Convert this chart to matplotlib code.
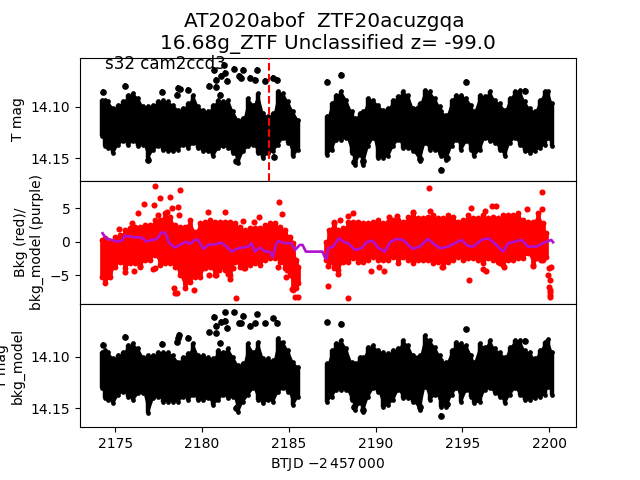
import matplotlib
matplotlib.use("Agg")
import matplotlib.pyplot as plt

# ---- time grids (BTJD - 2457000 style axis) ----
t_left = [2174.21,2174.41,2174.60,2174.89,2175.17,2175.46,2175.75,2176.04,2176.33,2176.61,
          2176.90,2177.19,2177.48,2177.77,2178.05,2178.34,2178.63,2178.92,2179.21,2179.49,
          2179.78,2180.07,2180.36,2180.64,2180.93,2181.22,2181.51,2181.80,2182.08,2182.37,
          2182.66,2182.95,2183.23,2183.52,2183.81,2184.10,2184.39,2184.67,2184.96,2185.25,2185.54]
t_right = [2187.21,2187.46,2187.74,2188.03,2188.32,2188.61,2188.80,2189.09,2189.28,2189.57,
           2189.86,2190.14,2190.43,2190.72,2191.01,2191.30,2191.58,2191.87,2192.16,2192.54,
           2192.83,2193.12,2193.41,2193.69,2193.79,2194.08,2194.37,2194.65,2194.94,2195.23,
           2195.52,2195.65,2196.00,2196.28,2196.57,2196.86,2197.15,2197.44,2197.72,2198.01,
           2198.30,2198.59,2198.87,2199.16,2199.45,2199.74,2199.93,2200.16]

# ---- top panel: T mag band limits ----
mag_hi_left = [14.0928,14.0928,14.0945,14.1010,14.0977,14.0945,14.0879,14.0863,14.0912,14.0994,
               14.0994,14.0977,14.0945,14.0928,14.0945,14.0977,14.1026,14.1010,14.0961,14.0879,
               14.0994,14.1026,14.1043,14.0977,14.0928,14.0945,14.0928,14.1043,14.1124,14.1108,
               14.0912,14.0977,14.0863,14.1059,14.1092,14.1059,14.0846,14.0863,14.0945,14.1043,14.1124]
mag_lo_left = [14.1288,14.1386,14.1402,14.1451,14.1369,14.1337,14.1369,14.1337,14.1386,14.1369,
               14.1500,14.1418,14.1386,14.1418,14.1435,14.1435,14.1418,14.1369,14.1402,14.1353,
               14.1402,14.1435,14.1435,14.1484,14.1402,14.1386,14.1402,14.1451,14.1549,14.1435,
               14.1386,14.1369,14.1451,14.1500,14.1451,14.1435,14.1369,14.1304,14.1353,14.1484,14.1418]
mag_hi_right = [14.1092,14.0961,14.0879,14.0846,14.0928,14.1043,14.1108,14.1059,14.1043,14.0912,
                14.0928,14.0977,14.1026,14.1010,14.0928,14.0895,14.0846,14.0879,14.1010,14.0961,
                14.0830,14.0846,14.0912,14.0994,14.1043,14.1075,14.0928,14.0879,14.0879,14.0912,
                14.0977,14.1043,14.0879,14.0895,14.0846,14.0928,14.0961,14.1026,14.0912,14.0846,
                14.0830,14.0945,14.1010,14.1043,14.0928,14.0846,14.0846,14.0961]
mag_lo_right = [14.1467,14.1418,14.1320,14.1320,14.1304,14.1451,14.1565,14.1467,14.1565,14.1386,
                14.1304,14.1500,14.1500,14.1484,14.1386,14.1320,14.1402,14.1402,14.1435,14.1533,
                14.1353,14.1418,14.1418,14.1451,14.1484,14.1516,14.1386,14.1320,14.1418,14.1337,
                14.1418,14.1484,14.1418,14.1304,14.1337,14.1353,14.1418,14.1484,14.1353,14.1304,
                14.1369,14.1435,14.1451,14.1435,14.1402,14.1369,14.1304,14.1386]
mag_pts_t = [2175.56,2174.31,2177.71,2178.63,2178.53,2178.72,2179.21,2180.41,2180.80,2180.82,
             2180.68,2181.12,2181.32,2181.28,2181.41,2181.85,2182.37,2182.12,2182.27,2183.14,
             2182.75,2183.04,2183.62,2184.10,2184.29,2187.17,2181.05,2181.95,2184.16,2176.86,
             2188.03,2195.19,2198.61,2193.79,2189.28,2188.76,2192.54,2194.12]
mag_pts = [14.0791,14.0853,14.0850,14.0814,14.0879,14.0824,14.0830,14.0791,14.0804,14.0732,
           14.0634,14.0693,14.0667,14.0585,14.0748,14.0628,14.0634,14.0699,14.0716,14.0634,
           14.0716,14.0732,14.0748,14.0716,14.0732,14.0755,14.0886,14.1533,14.1490,14.1516,
           14.0683,14.0758,14.0846,14.1614,14.1533,14.1543,14.1510,14.1500]

# ---- middle panel: background band limits ----
t_bkg_left = [2174.21,2174.41,2174.70,2174.98,2175.27,2175.56,2175.85,2176.13,2176.42,2176.71,
              2177.00,2177.29,2177.57,2177.86,2178.15,2178.44,2178.72,2179.01,2179.30,2179.59,
              2179.88,2180.16,2180.45,2180.74,2181.03,2181.32,2181.60,2181.89,2182.18,2182.47,
              2182.75,2183.04,2183.33,2183.62,2183.91,2184.19,2184.48,2184.77,2185.06,2185.25,
              2185.44,2185.54]
bkg_hi_left = [0.25,0.5,0,0.75,1,1.75,2,2.25,2.25,2.5,2.5,3.25,3.25,4.25,3.75,2.5,2.25,2.25,3.25,1.5,
               2.75,3,3.25,3,3,3,3,2.75,2.25,1.75,2,2,2,2.5,2.75,2.75,2.25,1.75,0.75,-0.25,-2.75,-3.75]
bkg_lo_left = [-5.25,-6.25,-5.25,-3.75,-3,-4,-3.25,-3.25,-3.75,-2.75,-2.75,-2,-3.5,-3.25,-3.25,-3.75,
               -5,-7,-6,-5.25,-5.25,-4,-3.75,-5,-3.75,-4.25,-5,-3,-3.75,-4,-3.5,-3.25,-3.5,-2.75,
               -2.5,-2.5,-3,-4,-5,-7.25,-7,-6.25]
t_bkg_right = [2187.13,2187.32,2187.59,2187.84,2188.13,2188.42,2188.70,2188.99,2189.28,2189.57,
               2189.86,2190.14,2190.43,2190.72,2191.01,2191.30,2191.58,2191.87,2192.16,2192.45,
               2192.73,2193.02,2193.31,2193.60,2193.89,2194.17,2194.46,2194.75,2195.04,2195.32,
               2195.61,2195.90,2196.19,2196.48,2196.76,2197.05,2197.34,2197.63,2197.92,2198.20,
               2198.49,2198.78,2199.07,2199.36,2199.64,2199.83]
bkg_hi_right = [0,1.75,3,1.75,2,3,3,3,2.75,2.75,3,3.25,2.75,3,3.25,3.25,3,3.75,4.25,3.5,3.5,3.75,4,
                3.5,3.5,4,3.75,3,3.25,4,3.5,3.5,4,3.5,3.75,3.5,4,4,4,4.25,3.25,3,3,4.25,2.75,1.25]
bkg_lo_right = [-2.75,-3,-4,-4.25,-3,-3,-2.5,-3,-3,-2.75,-2.25,-2.75,-2.75,-2.75,-2.25,-3.25,-2.25,
                -2.75,-3.25,-2.75,-2.75,-2.75,-3.25,-3,-3.75,-3,-2.75,-2.25,-2.75,-2.5,-2.5,-2.75,
                -3.25,-2.5,-2.75,-3,-3.5,-2.75,-2.75,-2.5,-2.5,-1.75,-3.5,-2.5,-2.75,-2.25]
bkg_pts_t = [2177.30,2178.74,2177.59,2178.17,2176.67,2177.25,2178.28,2178.59,2176.33,2177.48,
             2177.99,2178.67,2180.36,2181.33,2175.98,2175.23,2182.37,2183.00,2183.29,2184.44,
             2184.62,2175.58,2176.10,2176.44,2177.15,2177.30,2178.40,2178.44,2178.55,2179.55,
             2181.97,2180.41,2180.82,2181.62,2181.49,2180.99,2182.43,2181.80,2184.87,2184.85,
             2184.39,2185.35,2185.54,2185.19,2187.27,2187.27,
             2193.08,2199.59,2195.50,2196.71,2196.92,2198.72,2199.59,2188.70,2188.42,2187.96,
             2187.59,2193.14,2190.78,2191.24,2192.16,2196.28,2188.42,2195.38,2187.84,2189.74,
             2190.20,2190.49,2193.83,2196.19,2196.38,2197.17,2197.40,2199.07,2199.53,
             2199.99,2200.12,2199.93,2200.03,2199.99,2200.03,2200.07,2200.03,2200.07]
bkg_pts = [8.3,7.7,6.5,6.65,5.6,5.45,5.1,5.15,4.25,4.0,
           4.4,4.0,4.5,4.4,2.75,1.85,3.05,2.9,3.65,5.9,
           4.1,-4.6,-4.45,-3.7,-4.1,-4.0,-6.95,-7.75,-7.75,-7.3,
           -8.5,-5.05,-5.05,-5.65,-4.85,-4.25,-4.0,-4.0,-4.3,-5.35,
           -3.85,-8.25,-8.25,-7.1,-6.7,-3.7,
           8.0,7.4,5.0,5.4,5.3,4.85,4.85,4.25,3.85,3.2,
           2.85,4.55,3.65,3.85,4.4,4.6,-8.5,-5.8,-4.9,-4.45,
           -3.85,-4.45,-3.85,-4.1,-4.45,-3.25,-3.85,-3.65,-2.75,
           -4,-3.85,-5,-5.75,-6.75,-7.5,-8.25,-8.0,-7.25]

# ---- middle panel: background model ----
model_t = [2174.27,2174.46,2174.79,2175.08,2175.37,2175.56,2175.85,2176.13,2176.52,2176.81,
           2177.09,2177.38,2177.67,2177.88,2178.11,2178.44,2178.72,2179.07,2179.30,2179.59,
           2179.78,2180.07,2180.36,2180.74,2181.12,2181.41,2181.70,2181.99,2182.27,2182.66,
           2182.85,2183.04,2183.33,2183.62,2183.91,2184.06,2184.29,2184.42,2184.77,2185.15,
           2185.35,2185.63,2185.79,2185.98,2186.94,2187.07,2187.17,2187.27,2187.55,2187.88,
           2188.13,2188.42,2188.80,2189.18,2189.47,2189.82,2190.14,2190.53,2190.81,2191.20,
           2191.58,2192.12,2192.54,2193.02,2193.31,2193.69,2194.17,2194.56,2194.94,2195.32,
           2195.61,2196.09,2196.48,2196.86,2197.34,2197.63,2198.40,2198.78,2199.26,2199.74,
           2200.12,2200.22]
model = [1.25,0.5,0.25,0,0.1,0.9,0.75,0.65,0.6,0,
         0.25,0.35,1.35,1.35,-0.25,-0.9,-0.5,0,-0.35,0.25,
         0.25,-1.1,-0.5,-0.4,-0.15,-0.75,-1.5,-1.1,-0.9,-0.75,
         -0.25,-1.5,-0.9,-1.5,-1.5,-2.35,-0.25,0.1,-0.25,-0.25,
         -1.25,-0.5,-0.5,-1.5,-1.5,-2.35,-2.6,-1.0,-0.75,0.5,
         0,-0.25,-1.25,-1.0,-0.1,0.15,-0.9,-1.5,-0.15,0.4,
         0.25,-1.1,-0.75,0.4,-0.25,-1,-0.75,-0.25,0.25,-0.65,
         -0.75,0.25,0.5,-0.25,-1.5,-0.25,0.25,-0.75,-0.75,-0.1,
         0.25,-0.1]

# ---- bottom panel: T mag minus model band limits ----
sub_hi_left = [14.0952,14.0935,14.0952,14.1016,14.0984,14.0952,14.0887,14.0871,14.0919,14.1000,
               14.0984,14.0984,14.0952,14.0952,14.0952,14.0984,14.1049,14.1000,14.0968,14.0871,
               14.0984,14.0984,14.1000,14.1016,14.0935,14.0952,14.0919,14.1000,14.1081,14.1065,
               14.0871,14.0952,14.0855,14.1016,14.1016,14.1033,14.0822,14.0855,14.0935,14.1049,14.1097]
sub_lo_left = [14.1308,14.1405,14.1421,14.1453,14.1372,14.1340,14.1388,14.1421,14.1356,14.1356,
               14.1550,14.1405,14.1388,14.1437,14.1437,14.1437,14.1437,14.1388,14.1421,14.1372,
               14.1421,14.1421,14.1405,14.1469,14.1421,14.1372,14.1405,14.1388,14.1534,14.1437,
               14.1372,14.1308,14.1421,14.1453,14.1421,14.1437,14.1340,14.1308,14.1340,14.1469,14.1388]
sub_hi_right = [14.1065,14.0935,14.0871,14.0838,14.0919,14.1049,14.1065,14.1000,14.1000,14.0903,
                14.0887,14.0935,14.0952,14.0968,14.0935,14.0919,14.0838,14.0887,14.0984,14.0984,
                14.0790,14.0838,14.0903,14.0984,14.1033,14.1049,14.0935,14.0855,14.0871,14.0887,
                14.0984,14.1049,14.0871,14.0903,14.0838,14.0919,14.0952,14.1000,14.0903,14.0838,
                14.0838,14.0935,14.0952,14.1016,14.0935,14.0855,14.0832,14.0952]
sub_lo_right = [14.1437,14.1388,14.1324,14.1324,14.1324,14.1421,14.1518,14.1453,14.1534,14.1388,
                14.1308,14.1340,14.1486,14.1469,14.1421,14.1324,14.1405,14.1405,14.1437,14.1518,
                14.1291,14.1421,14.1372,14.1405,14.1486,14.1486,14.1372,14.1308,14.1437,14.1324,
                14.1388,14.1453,14.1437,14.1324,14.1308,14.1356,14.1388,14.1453,14.1372,14.1308,
                14.1372,14.1421,14.1421,14.1405,14.1388,14.1372,14.1291,14.1372]
sub_pts_t = [2175.58,2174.31,2177.71,2178.67,2178.53,2178.59,2179.21,2180.41,2180.80,2180.82,
             2180.68,2181.12,2181.32,2181.33,2181.41,2181.85,2182.37,2182.12,2182.27,2183.14,
             2182.75,2183.04,2183.62,2184.10,2184.29,2187.17,2181.05,2181.95,
             2188.03,2195.19,2198.61,2193.79,2189.28,2188.76,2192.54,2194.12]
sub_pts = [14.0812,14.0887,14.0877,14.0790,14.0855,14.0822,14.0822,14.0764,14.0774,14.0702,
           14.0612,14.0660,14.0651,14.0570,14.0725,14.0570,14.0605,14.0677,14.0677,14.0589,
           14.0702,14.0677,14.0677,14.0628,14.0670,14.0667,14.0871,14.1502,
           14.0686,14.0735,14.0845,14.1579,14.1518,14.1492,14.1492,14.1463]

title = "AT2020abof  ZTF20acuzgqa \n16.68g_ZTF Unclassified z= -99.0"
sector_label = "s32 cam2ccd3"
event_time = 2183.85
xticks = [2175, 2180, 2185, 2190, 2195, 2200]
mag_ticks = [14.10, 14.15]
bkg_ticks = [-5, 0, 5]

PURPLE = "#b010d0"


def band(ax, t, lo, hi, color, lw, ms):
    ax.fill_between(t, lo, hi, color=color, lw=0, zorder=2)
    ax.vlines(t, lo, hi, color=color, lw=lw, zorder=2)
    ax.plot(t, lo, "o", color=color, ms=ms, mew=0, zorder=2)
    ax.plot(t, hi, "o", color=color, ms=ms, mew=0, zorder=2)


fig, axes = plt.subplots(3, 1, sharex=True, figsize=(6.4, 4.8), dpi=100)
fig.subplots_adjust(hspace=0)
ax1, ax2, ax3 = axes

# top
band(ax1, t_left, mag_lo_left, mag_hi_left, "k", 3.2, 3.4)
band(ax1, t_right, mag_lo_right, mag_hi_right, "k", 3.2, 3.4)
ax1.errorbar(mag_pts_t, mag_pts, yerr=0.0028, fmt="o", color="k", ms=3.8, elinewidth=1.2, zorder=3)
ax1.axvline(event_time, color="r", ls="--", lw=1.5, zorder=4)
ax1.set_ylim(14.1723, 14.0517)
ax1.set_yticks(mag_ticks, ["14.10", "14.15"])
ax1.set_ylabel("T mag")
ax1.set_title(title, fontsize=14.4)
ax1.text(0.05, 0.95, sector_label, transform=ax1.transAxes, fontsize=12, va="center", zorder=5)

# middle
band(ax2, t_bkg_left, bkg_lo_left, bkg_hi_left, "r", 3.4, 4.2)
band(ax2, t_bkg_right, bkg_lo_right, bkg_hi_right, "r", 3.4, 4.2)
ax2.plot(bkg_pts_t, bkg_pts, "o", color="r", ms=4.4, mew=0, zorder=3)
ax2.plot(model_t, model, color=PURPLE, lw=1.9, zorder=4)
ax2.set_ylim(-9.34, 9.1)
ax2.set_yticks(bkg_ticks)
ax2.set_ylabel("Bkg (red)/\nbkg_model (purple)")

# bottom
band(ax3, t_left, sub_lo_left, sub_hi_left, "k", 3.2, 3.4)
band(ax3, t_right, sub_lo_right, sub_hi_right, "k", 3.2, 3.4)
ax3.errorbar(sub_pts_t, sub_pts, yerr=0.0028, fmt="o", color="k", ms=3.8, elinewidth=1.2, zorder=3)
ax3.set_ylim(14.1685, 14.0488)
ax3.set_yticks(mag_ticks, ["14.10", "14.15"])
ax3.set_ylabel("T mag\nbkg_model")
ax3.set_xlabel(r"BTJD $-2\,457\,000$")

ax3.set_xlim(2172.97, 2201.54)
ax3.set_xticks(xticks)
ax1.tick_params(axis="x", bottom=False)
ax2.tick_params(axis="x", bottom=False)

fig.savefig("out.png", dpi=100)
